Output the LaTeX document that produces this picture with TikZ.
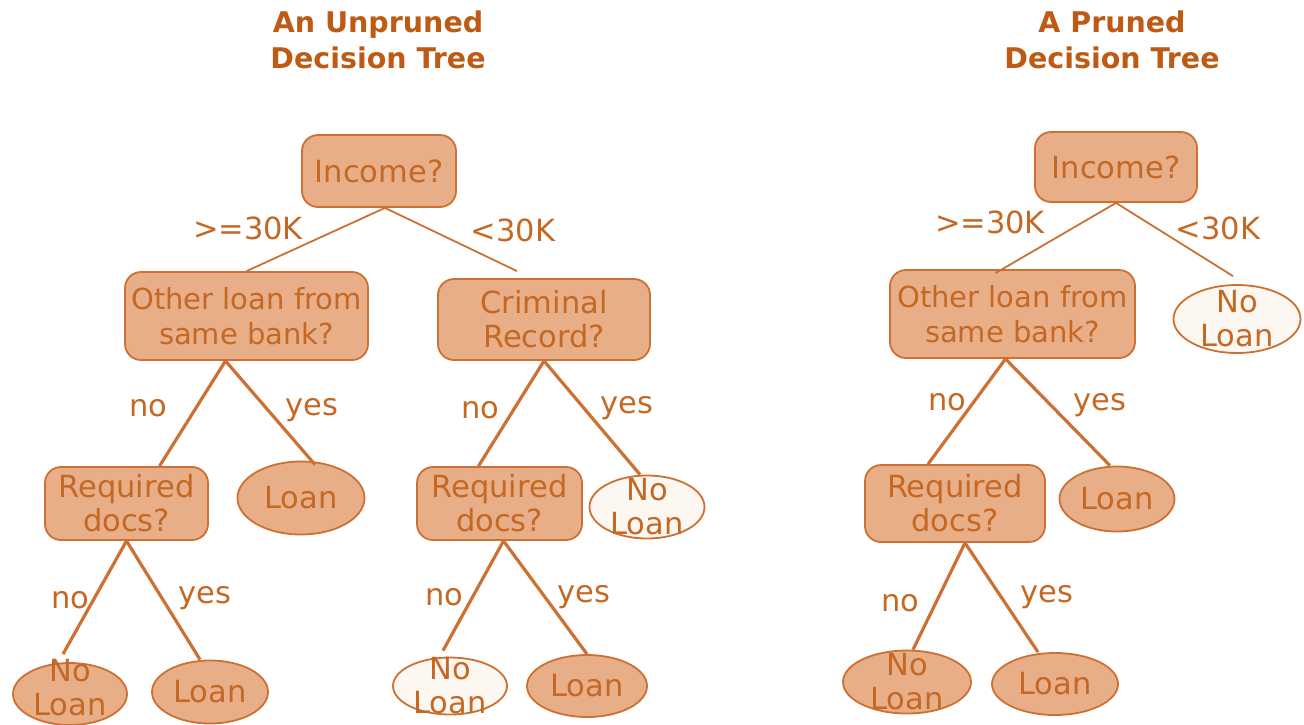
\documentclass[tikz,border=0pt]{standalone}
\usepackage{fontspec}
\setmainfont{DejaVu Sans}
\usetikzlibrary{shapes.geometric,calc}
\definecolor{fillc}{RGB}{232,174,135}
\definecolor{strokec}{RGB}{204,112,51}
\definecolor{textc}{RGB}{196,104,36}
\definecolor{titlec}{RGB}{190,90,20}
\definecolor{pale}{RGB}{253,247,242}
\tikzset{
  txtfont/.style={font=\fontsize{30.5}{34}\selectfont, text=textc},
  qbox/.style={draw=strokec, fill=fillc, line width=1.8pt, rounded corners=16pt, inner sep=0pt},
  leaf/.style={draw=strokec, fill=fillc, line width=1.8pt, ellipse, inner sep=0pt},
  paleleaf/.style={leaf, fill=pale},
  inner/.style={txtfont, align=center, inner sep=0pt},
  narrow/.style={inner, font=\fontsize{29}{35}\selectfont},
  lbl/.style={txtfont, inner sep=0pt},
  ttl/.style={font=\bfseries\fontsize{28.5}{36}\selectfont, text=titlec, align=center},
  thinedge/.style={draw=strokec, line width=1.8pt},
  thickedge/.style={draw=strokec, line width=3.2pt},
}
\begin{document}
\begin{tikzpicture}[x=1pt,y=-1pt]
\useasboundingbox (0,0) rectangle (1304,724);
% titles
\node[ttl] (t1) at (378,40) {An Unpruned\\Decision Tree};
\node[ttl] (t2) at (1112,40) {A Pruned\\Decision Tree};

% left tree nodes
\node[qbox, minimum width=154pt, minimum height=72pt] (inc) at (379,171) {};
\node[inner] (incT) at (inc) {Income?};
\node[qbox, minimum width=243pt, minimum height=88pt] (ol) at (246.5,316) {};
\node[narrow] (olT) at (ol) {Other loan from\\same bank?};
\node[qbox, minimum width=212pt, minimum height=81pt] (cr) at (544,319.5) {};
\node[inner] (crT) at (cr) {Criminal\\Record?};
\node[qbox, minimum width=163pt, minimum height=73pt] (rd1) at (126.5,503.5) {};
\node[inner] (rd1T) at (rd1) {Required\\docs?};
\node[leaf, minimum width=127pt, minimum height=73pt] (ln1) at (301,498) {};
\node[inner] (ln1T) at (ln1) {Loan};
\node[qbox, minimum width=165pt, minimum height=73pt] (rd2) at (499.5,503.5) {};
\node[inner] (rd2T) at (rd2) {Required\\docs?};
\node[paleleaf, minimum width=115pt, minimum height=63pt] (nl1) at (647,507) {};
\node[inner] (nl1T) at (nl1) {No\\Loan};
\node[leaf, minimum width=114pt, minimum height=62pt] (nl3) at (70,694) {};
\node[inner] (nl3T) at (70,688) {No\\Loan};
\node[leaf, minimum width=116pt, minimum height=63pt] (ln3) at (210,692) {};
\node[inner] (ln3T) at (ln3) {Loan};
\node[paleleaf, minimum width=114pt, minimum height=57pt] (nl2) at (450,686) {};
\node[inner] (nl2T) at (nl2) {No\\Loan};
\node[leaf, minimum width=120pt, minimum height=62pt] (ln2) at (587,686) {};
\node[inner] (ln2T) at (ln2) {Loan};

% right tree nodes
\node[qbox, minimum width=162pt, minimum height=70pt] (inc2) at (1116,167) {};
\node[inner] (inc2T) at (inc2) {Income?};
\node[qbox, minimum width=245pt, minimum height=88pt] (ol2) at (1012.5,314) {};
\node[narrow] (ol2T) at (ol2) {Other loan from\\same bank?};
\node[paleleaf, minimum width=127pt, minimum height=68pt] (nl4) at (1237,319) {};
\node[inner] (nl4T) at (nl4) {No\\Loan};
\node[qbox, minimum width=180pt, minimum height=77pt] (rd3) at (955,503.5) {};
\node[inner] (rd3T) at (rd3) {Required\\docs?};
\node[leaf, minimum width=115pt, minimum height=65pt] (ln4) at (1117,499) {};
\node[inner] (ln4T) at (ln4) {Loan};
\node[leaf, minimum width=128pt, minimum height=63pt] (nl5) at (907,682) {};
\node[inner] (nl5T) at (nl5) {No\\Loan};
\node[leaf, minimum width=126pt, minimum height=62pt] (ln5) at (1055,684) {};
\node[inner] (ln5T) at (ln5) {Loan};

% left edges
\draw[thinedge] ($(inc.south)+(6,0)$) -- (ol.north);
\draw[thinedge] ($(inc.south)+(6,0)$) -- ($(cr.north)+(-27,-7)$);
\draw[thickedge] ($(ol.south)+(-21,0)$) -- ($(rd1.north)+(33,0)$);
\draw[thickedge] ($(ol.south)+(-21,0)$) -- ($(ln1.north)+(14,4)$);
\draw[thickedge] (cr.south) -- ($(rd2.north)+(-21,0)$);
\draw[thickedge] (cr.south) -- ($(nl1.north)+(-7,0)$);
\draw[thickedge] (rd1.south) -- ($(nl3.north)+(-7,-8)$);
\draw[thickedge] (rd1.south) -- ($(ln3.north)+(-10,0)$);
\draw[thickedge] ($(rd2.south)+(4,0)$) -- ($(nl2.north)+(-7,-6)$);
\draw[thickedge] ($(rd2.south)+(4,0)$) -- (ln2.north);

% right edges
\draw[thinedge] (inc2.south) -- ($(ol2.north)+(-17,4)$);
\draw[thinedge] (inc2.south) -- ($(nl4.north)+(-4,-8)$);
\draw[thickedge] ($(ol2.south)+(-7,0)$) -- ($(rd3.north)+(-27,0)$);
\draw[thickedge] ($(ol2.south)+(-7,0)$) -- ($(ln4.north)+(-7,0)$);
\draw[thickedge] ($(rd3.south)+(10,0)$) -- ($(nl5.north)+(6,0)$);
\draw[thickedge] ($(rd3.south)+(10,0)$) -- ($(ln5.north)+(-17,0)$);

% edge labels
\node[lbl] (a1) at (248,228) {>=30K};
\node[lbl] (a2) at (513,230) {<30K};
\node[lbl] (a3) at (148,408) {no};
\node[lbl] (a4) at (312,410) {yes};
\node[lbl] (a5) at (70,600) {no};
\node[lbl] (a6) at (205,598) {yes};
\node[lbl] (a7) at (480,410) {no};
\node[lbl] (a8) at (627,408) {yes};
\node[lbl] (a9) at (444,597) {no};
\node[lbl] (a10) at (584,597) {yes};
\node[lbl] (b1) at (990,222) {>=30K};
\node[lbl] (b2) at (1218,228) {<30K};
\node[lbl] (b3) at (947,402) {no};
\node[lbl] (b4) at (1100,405) {yes};
\node[lbl] (b5) at (900,603) {no};
\node[lbl] (b6) at (1047,597) {yes};
\end{tikzpicture}
\end{document}
